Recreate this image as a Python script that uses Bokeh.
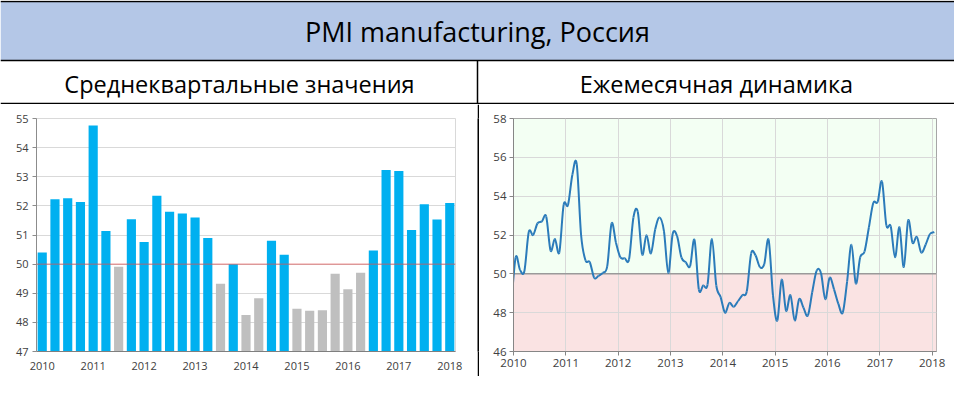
from bokeh.plotting import figure
from bokeh.models import Range1d, FixedTicker, Span, BoxAnnotation, ColumnDataSource
from bokeh.layouts import column, row
from bokeh.embed import file_html
from bokeh.resources import INLINE
from bokeh.core.properties import value

# ---------------- data ----------------
TITLE = "PMI manufacturing, Россия"
SUB_LEFT = "Среднеквартальные значения"
SUB_RIGHT = "Ежемесячная динамика"

year_labels = ["2010", "2011", "2012", "2013", "2014", "2015", "2016", "2017", "2018"]

quarters = [f"{y}Q{q}" for y in range(2010, 2018) for q in range(1, 5)] + ["2018Q1"]
quarterly_pmi = [50.40, 52.23, 52.26, 52.13, 54.76, 51.14, 49.91, 51.54,
                 50.76, 52.35, 51.80, 51.74, 51.60, 50.90, 49.33, 50.00,
                 48.25, 48.83, 50.80, 50.32, 48.47, 48.40, 48.42, 49.67,
                 49.14, 49.70, 50.47, 53.23, 53.20, 51.17, 52.06, 51.53,
                 52.10]

# monthly values, Dec 2009 ... Jan 2018
monthly_start = (2009, 12)
monthly_pmi = [48.4,
               50.85, 50.2, 50.15, 52.15, 52.0, 52.6, 52.7, 52.95, 51.2, 51.8, 51.1, 53.55,
               53.55, 55.1, 55.65, 52.0, 50.7, 50.6, 49.8, 49.9, 50.05, 50.4, 52.6, 51.6,
               50.85, 50.8, 50.75, 52.9, 53.2, 51.0, 52.0, 51.05, 52.3, 52.9, 52.2, 50.05,
               52.05, 51.95, 50.85, 50.6, 50.4, 51.75, 49.2, 49.4, 49.45, 51.8, 49.4, 48.8,
               48.0, 48.5, 48.3, 48.6, 48.9, 49.1, 51.05, 50.95, 50.35, 50.5, 51.75, 48.9,
               47.6, 49.7, 48.1, 48.9, 47.6, 48.7, 48.25, 47.85, 49.05, 50.15, 50.05, 48.7,
               49.8, 49.2, 48.45, 48.0, 49.6, 51.5, 49.5, 50.85, 51.15, 52.4, 53.65, 53.7,
               54.75, 52.5, 52.45, 50.85, 52.4, 50.35, 52.75, 51.6, 51.9, 51.1, 51.5, 52.05,
               52.15]

THRESHOLD = 50

# ---------------- style ----------------
FONT = "Open Sans"
BLUE = "#00B0F0"
GRAY = "#BFBFBF"
LINE_BLUE = "#2B7BBA"
GRID = "#D9D9D9"
TICK_COLOR = "#404040"

W, H = 954, 378
TOP_H = 104
BORDER = 2
CH = H - TOP_H - BORDER
LW = 477
RW = W - LW - BORDER

# ---------------- header ----------------
top = figure(width=W, height=TOP_H, x_range=Range1d(0, 970), y_range=Range1d(109, 0),
             toolbar_location=None, output_backend="svg", min_border=0,
             x_axis_type=None, y_axis_type=None, outline_line_color=None)
top.grid.visible = False
top.quad(left=[0], right=[970], top=[1], bottom=[63], fill_color="#B4C7E7", line_color=None)
top.segment(x0=[0, 0, 0, 485], y0=[1, 63, 108, 63], x1=[970, 970, 970, 485], y1=[1, 63, 108, 109],
            line_color="black", line_width=1.5)
top.text(x=[485], y=[33], text=[TITLE], text_align="center", text_baseline="middle",
         text_font=value(FONT), text_font_size=value("27px"), text_color="black")
top.text(x=[243, 728], y=[87, 87], text=[SUB_LEFT, SUB_RIGHT], text_align="center",
         text_baseline="middle", text_font=value(FONT), text_font_size=value("23.5px"),
         text_color="black")

# ---------------- left: quarterly bars ----------------
src = ColumnDataSource(dict(
    x=list(range(len(quarterly_pmi))),
    top=quarterly_pmi,
    q=quarters,
    color=[BLUE if v >= THRESHOLD else GRAY for v in quarterly_pmi],
))
left = figure(width=LW, height=CH, x_range=Range1d(-0.45, len(quarterly_pmi) - 0.55),
              y_range=Range1d(47, 55), toolbar_location=None, output_backend="svg",
              min_border_left=36, min_border_right=22, min_border_top=14, min_border_bottom=24,
              outline_line_color=GRID)
left.vbar(x="x", top="top", bottom=47, width=0.72, fill_color="color", line_color=None, source=src)
left.add_layout(Span(location=THRESHOLD, dimension="width", line_color="#E05050",
                     line_alpha=0.75, line_width=1))
left.xgrid.visible = False
left.ygrid.grid_line_color = GRID
left.yaxis.ticker = FixedTicker(ticks=list(range(47, 56)))
xt = list(range(0, len(quarterly_pmi), 4))
left.xaxis.ticker = FixedTicker(ticks=xt)
left.xaxis.major_label_overrides = {t: lab for t, lab in zip(xt, year_labels)}
left.xaxis.major_tick_line_color = None
left.xaxis.axis_line_color = "#7F7F7F"
left.yaxis.axis_line_color = "#8C8C8C"
left.yaxis.major_tick_out = 4
left.yaxis.major_tick_in = 0
left.yaxis.major_tick_line_color = "#8C8C8C"
for ax in (left.xaxis, left.yaxis):
    ax.minor_tick_line_color = None
    ax.major_label_text_font = FONT
    ax.major_label_text_font_size = "11px"
    ax.major_label_text_color = TICK_COLOR
left.xaxis.major_label_standoff = 4
left.yaxis.major_label_standoff = 4

# ---------------- right: monthly smoothed line ----------------
y0, m0 = monthly_start
xs = [y0 + (m0 - 1 + i + 0.5) / 12 for i in range(len(monthly_pmi))]
ys = monthly_pmi
n = len(xs)
seg = dict(x0=[], y0=[], x1=[], y1=[], cx0=[], cy0=[], cx1=[], cy1=[])
for i in range(n - 1):
    a = i - 1 if i > 0 else i
    d = i + 2 if i + 2 < n else i + 1
    seg["x0"].append(xs[i]); seg["y0"].append(ys[i])
    seg["x1"].append(xs[i + 1]); seg["y1"].append(ys[i + 1])
    seg["cx0"].append(xs[i] + (xs[i + 1] - xs[a]) / 6)
    seg["cy0"].append(ys[i] + (ys[i + 1] - ys[a]) / 6)
    seg["cx1"].append(xs[i + 1] - (xs[d] - xs[i]) / 6)
    seg["cy1"].append(ys[i + 1] - (ys[d] - ys[i]) / 6)

right = figure(width=RW, height=CH, x_range=Range1d(2010, 2018 + 1 / 12), y_range=Range1d(46, 58),
               toolbar_location=None, output_backend="svg",
               min_border_left=34, min_border_right=18, min_border_top=13, min_border_bottom=25,
               background_fill_color="#F3FFF3", outline_line_color="#A6A6A6")
right.add_layout(BoxAnnotation(bottom=46, top=THRESHOLD, fill_color="#FAE3E3", fill_alpha=1,
                               line_color=None, level="image"))
right.add_layout(Span(location=THRESHOLD, dimension="width", line_color="#9A9A9A",
                      line_width=1.5, level="underlay"))
right.bezier(source=ColumnDataSource(seg), x0="x0", y0="y0", x1="x1", y1="y1",
             cx0="cx0", cy0="cy0", cx1="cx1", cy1="cy1", line_color=LINE_BLUE, line_width=2)
yr = list(range(2010, 2019))
right.xaxis.ticker = FixedTicker(ticks=yr)
right.xaxis.major_label_overrides = {t: lab for t, lab in zip(yr, year_labels)}
right.yaxis.ticker = FixedTicker(ticks=list(range(46, 59, 2)))
right.grid.grid_line_color = GRID
for ax in (right.xaxis, right.yaxis):
    ax.minor_tick_line_color = None
    ax.axis_line_color = "#868686"
    ax.major_tick_line_color = "#868686"
    ax.major_tick_out = 4
    ax.major_tick_in = 0
    ax.major_label_text_font = FONT
    ax.major_label_text_font_size = "11.5px"
    ax.major_label_text_color = TICK_COLOR
    ax.major_label_standoff = 3


# ---------------- borders ----------------
def black_bar(w, h):
    f = figure(width=w, height=h, x_range=Range1d(0, 1), y_range=Range1d(0, 1),
               toolbar_location=None, output_backend="svg", min_border=0,
               x_axis_type=None, y_axis_type=None, background_fill_color="black",
               border_fill_color="black", outline_line_color=None)
    f.grid.visible = False
    return f


layout = column(top, row(left, black_bar(BORDER, CH), right), black_bar(W, BORDER))

open("out.html", "w").write(file_html(layout, INLINE))
